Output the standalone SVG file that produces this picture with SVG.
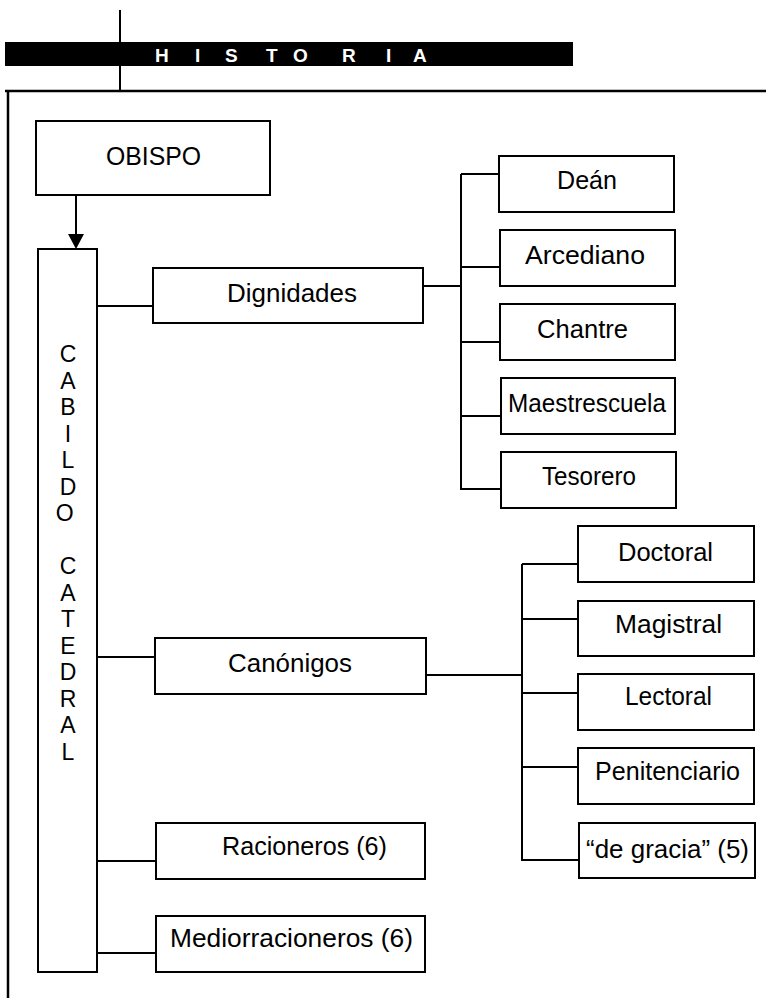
<svg xmlns="http://www.w3.org/2000/svg" width="766" height="998" viewBox="0 0 766 998">
<style>
.bx{fill:#fff;stroke:#000;stroke-width:2}
.ln{stroke:#000;stroke-width:2;fill:none}
.t{font-family:"Liberation Sans",Arial,sans-serif;font-size:26px;fill:#000}
.v{font-family:"Liberation Sans",Arial,sans-serif;font-size:23px;fill:#000}
.h{font-family:"Liberation Sans",Arial,sans-serif;font-size:19px;font-weight:bold;fill:#fff}
</style>
<rect width="766" height="998" fill="#fff"/>
<g id="header">
<line x1="120" y1="10" x2="120" y2="91" stroke="#000" stroke-width="2"/>
<rect x="5" y="42" width="568" height="24" fill="#000"/>
<text class="h" x="155 195 225 266 293 342 386 413" y="62">HISTORIA</text>
<path d="M5 91 H766 M8 91 V998" stroke="#000" stroke-width="2.5" fill="none"/>
</g>
<g id="connectors" class="ln">
<line x1="76" y1="195" x2="76" y2="236"/>
<polygon points="68,234 84,234 76,249" fill="#000" stroke="none"/>
<path d="M97 306 H153 M97 657 H155 M97 861 H156 M97 953 H156"/>
<path d="M423 286 H461 M461 174 V490 M461 174 H499 M461 267 H500 M461 342 H500 M461 416 H501 M461 489 H501"/>
<path d="M426 675 H522 M522 564 V861 M522 564 H578 M522 619 H578 M522 693 H578 M522 767 H578 M522 860 H579"/>
</g>
<g id="obispo"><rect class="bx" x="36" y="121" width="234" height="74"/><text class="t" x="106" y="165" textLength="95" lengthAdjust="spacingAndGlyphs">OBISPO</text></g>
<g id="cabildo"><rect class="bx" x="38" y="249" width="59" height="723"/>
<text class="v" text-anchor="middle">
<tspan x="68" y="362">C</tspan><tspan x="68" y="388.5">A</tspan><tspan x="68" y="415">B</tspan><tspan x="68" y="441.5">I</tspan><tspan x="68" y="468">L</tspan><tspan x="68" y="494.5">D</tspan><tspan x="68" y="521">O</tspan>
<tspan x="68" y="574">C</tspan><tspan x="68" y="600.5">A</tspan><tspan x="68" y="627">T</tspan><tspan x="68" y="653.5">E</tspan><tspan x="68" y="680">D</tspan><tspan x="68" y="706.5">R</tspan><tspan x="68" y="733">A</tspan><tspan x="68" y="759.5">L</tspan>
</text></g>
<g id="dignidades"><rect class="bx" x="153" y="268" width="270" height="55"/><text class="t" x="227" y="302" textLength="130" lengthAdjust="spacingAndGlyphs">Dignidades</text></g>
<g id="canonigos"><rect class="bx" x="155" y="638" width="271" height="56"/><text class="t" x="228" y="672" textLength="124" lengthAdjust="spacingAndGlyphs">Canónigos</text></g>
<g id="racioneros"><rect class="bx" x="156" y="823" width="269" height="56"/><text class="t" x="222" y="855" textLength="165" lengthAdjust="spacingAndGlyphs">Racioneros (6)</text></g>
<g id="mediorracioneros"><rect class="bx" x="156" y="916" width="269" height="56"/><text class="t" x="170" y="947" textLength="243" lengthAdjust="spacingAndGlyphs">Mediorracioneros (6)</text></g>
<g id="dean"><rect class="bx" x="499" y="156" width="175" height="56"/><text class="t" x="557" y="189" textLength="60" lengthAdjust="spacingAndGlyphs">Deán</text></g>
<g id="arcediano"><rect class="bx" x="500" y="230" width="175" height="56"/><text class="t" x="525" y="264" textLength="120" lengthAdjust="spacingAndGlyphs">Arcediano</text></g>
<g id="chantre"><rect class="bx" x="500" y="304" width="175" height="56"/><text class="t" x="537" y="338" textLength="91" lengthAdjust="spacingAndGlyphs">Chantre</text></g>
<g id="maestrescuela"><rect class="bx" x="501" y="378" width="174" height="56"/><text class="t" x="508" y="412" textLength="158" lengthAdjust="spacingAndGlyphs">Maestrescuela</text></g>
<g id="tesorero"><rect class="bx" x="501" y="452" width="175" height="56"/><text class="t" x="542" y="485" textLength="94" lengthAdjust="spacingAndGlyphs">Tesorero</text></g>
<g id="doctoral"><rect class="bx" x="578" y="526" width="176" height="56"/><text class="t" x="618" y="561" textLength="95" lengthAdjust="spacingAndGlyphs">Doctoral</text></g>
<g id="magistral"><rect class="bx" x="578" y="601" width="176" height="55"/><text class="t" x="615" y="633" textLength="107" lengthAdjust="spacingAndGlyphs">Magistral</text></g>
<g id="lectoral"><rect class="bx" x="578" y="674" width="176" height="56"/><text class="t" x="625" y="705" textLength="87" lengthAdjust="spacingAndGlyphs">Lectoral</text></g>
<g id="penitenciario"><rect class="bx" x="578" y="748" width="176" height="56"/><text class="t" x="595" y="780" textLength="145" lengthAdjust="spacingAndGlyphs">Penitenciario</text></g>
<g id="degracia"><rect class="bx" x="579" y="823" width="176" height="55"/><text class="t" x="586" y="858" textLength="163" lengthAdjust="spacingAndGlyphs">“de gracia” (5)</text></g>
</svg>
